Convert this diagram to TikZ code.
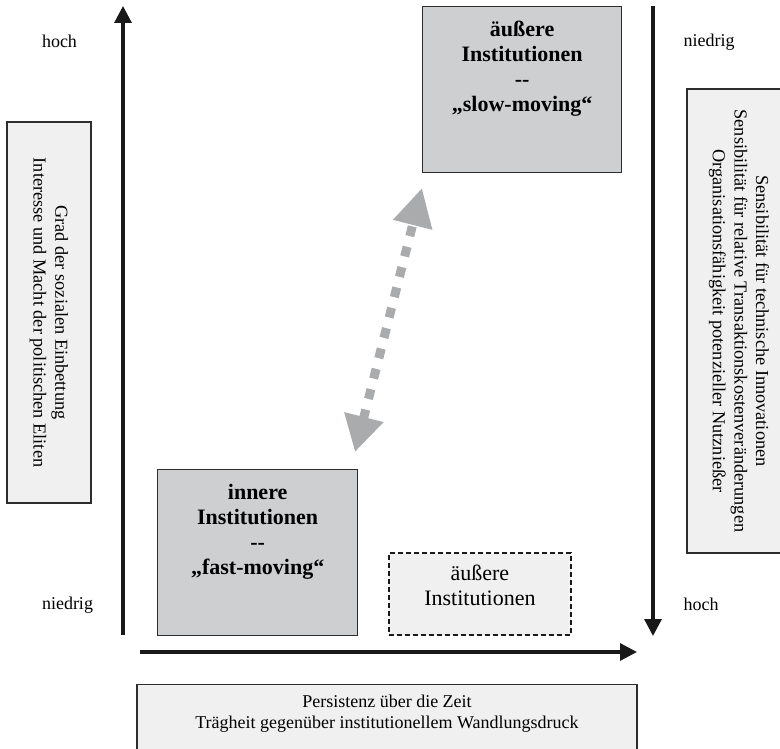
\documentclass[tikz,border=0pt]{standalone}
\usepackage{fontspec}
\setmainfont{Liberation Serif}
\usetikzlibrary{arrows.meta}
\definecolor{boxdark}{RGB}{206,207,209}
\definecolor{boxlight}{RGB}{240,240,240}
\definecolor{edgec}{RGB}{45,45,45}
\definecolor{arrowgray}{RGB}{170,171,173}
\begin{document}
\begin{tikzpicture}[x=1pt,y=-1pt,
  axis/.style={line width=3.2pt, draw=black!90, -{Triangle[length=17pt,width=17pt]}},
  darkbox/.style={draw=edgec, line width=1.3pt, fill=boxdark, inner sep=0pt},
  lightbox/.style={draw=edgec, line width=1.3pt, fill=boxlight},
  dashbox/.style={draw=black!90, line width=1.8pt, fill=boxlight, dash pattern=on 5pt off 3pt, inner sep=0pt},
  lbl/.style={font=\fontsize{18}{21}\selectfont, inner sep=0pt},
  sidetxt/.style={font=\fontsize{18.3}{21.7}\selectfont, align=center}]
\useasboundingbox (0,0) rectangle (780,749);
\begin{scope}
\clip (0,0) rectangle (780,749);
% side boxes
\node[lightbox, sidetxt, rotate=-90, minimum width=381pt, minimum height=84pt] (lbox) at (49,312.5)
  {Grad der sozialen Einbettung\\Interesse und Macht der politischen Eliten};
\node[lightbox, sidetxt, rotate=-90, minimum width=464pt, minimum height=104pt] (rbox) at (739,321)
  {Sensibilität für technische Innovationen\\Sensibilität für relative Transaktionskostenveränderungen\\Organisationsfähigkeit potenzieller Nutznießer};
% bottom box
\node[lightbox, inner sep=0pt, anchor=north] (bbox) at (387,684)
  {\begin{minipage}[c][90pt][t]{500pt}\centering\fontsize{18}{21}\selectfont\vspace*{10pt}Persistenz über die Zeit\\Trägheit gegenüber institutionellem Wandlungsdruck\end{minipage}};
\end{scope}
% main boxes
\node[darkbox, anchor=north west] (outerS) at (422,6)
  {\begin{minipage}[c][166pt][t]{199pt}\centering\fontsize{22}{25}\selectfont\bfseries\vspace*{14pt}äußere\\Institutionen\\{-}{-}\\„slow-moving“\end{minipage}};
\node[darkbox, anchor=north west] (innerF) at (157,469)
  {\begin{minipage}[c][166pt][t]{200pt}\centering\fontsize{22}{25}\selectfont\bfseries\vspace*{15pt}innere\\Institutionen\\{-}{-}\\„fast-moving“\end{minipage}};
\node[dashbox, anchor=north west] (outerD) at (388,552)
  {\begin{minipage}[c][82pt][t]{182pt}\centering\fontsize{22}{25}\selectfont\vspace*{12pt}äußere\\Institutionen\end{minipage}};
% labels
\node[lbl] (hochL) at (59.5,41) {hoch};
\node[lbl] (niedR) at (709,42) {niedrig};
\node[lbl] (niedL) at (67.5,605) {niedrig};
\node[lbl] (hochR) at (701,604) {hoch};
% axes
\coordinate (yb) at (123,635);
\coordinate (yt) at (123,6);
\coordinate (rt) at (653,6);
\coordinate (rb) at (653,636);
\coordinate (xl) at (140,652);
\coordinate (xr) at (637,652);
\draw[axis] (yb) -- (yt);
\draw[axis] (rt) -- (rb);
\draw[axis] (xl) -- (xr);
% gray double arrow
\coordinate (ga) at (355,452);
\coordinate (gb) at (422,188);
\draw[arrowgray, line width=9pt, dash pattern=on 10pt off 11pt,
  {Triangle[length=36pt,width=38pt]}-{Triangle[length=38pt,width=38pt]}] (ga) -- (gb);
\end{tikzpicture}
\end{document}
